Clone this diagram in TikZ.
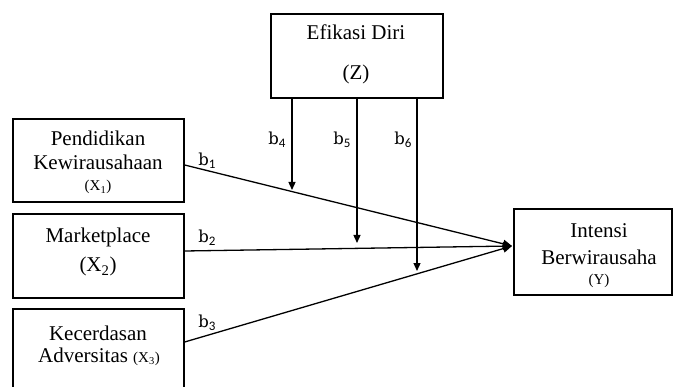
\documentclass[tikz,border=0pt]{standalone}
\usepackage{fontspec}
\setmainfont{Liberation Serif}
\newfontfamily\bfam{DejaVu Serif}
\newfontfamily\dfam{Carlito}
\newcommand{\blab}[1]{{\bfam\fontsize{16.5}{18}\selectfont b}\raisebox{-3pt}{\dfam\fontsize{13}{14}\selectfont #1}}
\usetikzlibrary{arrows.meta,calc}
\begin{document}
\begin{tikzpicture}[x=1pt,y=-1pt,
  box/.style={draw,line width=1.3pt,inner sep=0pt},
  txt/.style={anchor=base,inner sep=0pt,font=\fontsize{21}{24}\selectfont},
  small/.style={anchor=base,inner sep=0pt,font=\fontsize{15}{18}\selectfont},
  lab/.style={anchor=center,inner sep=0pt},
  conn/.style={line width=1.3pt,-{Triangle[length=9pt,width=8pt]}},
  vconn/.style={line width=1.3pt,-{Triangle[length=8pt,width=7pt]}}]
\useasboundingbox (0,0) rectangle (674,387);
\clip (0,0) rectangle (674,387);
% boxes
\node[box,minimum width=171pt,minimum height=83pt] (X1) at (98.5,160.5) {};
\node[box,minimum width=171pt,minimum height=84pt] (X2) at (98.5,256) {};
\node[box,minimum width=171pt,minimum height=91pt] (X3) at (98.5,354.5) {};
\node[box,minimum width=172pt,minimum height=84pt] (Z) at (357,56) {};
\node[box,minimum width=158pt,minimum height=86pt] (Y) at (593,252) {};
% texts
\node[txt] (t1a) at (98,146) {Pendidikan};
\node[txt] (t1b) at (98,170) {Kewirausahaan};
\node[small] (t1c) at (98,191) {(X\textsubscript{1})};
\node[txt] (t2a) at (98,243) {Marketplace};
\node[txt] (t2b) at (98,272) {(X\textsubscript{2})};
\node[txt] (t3a) at (98,340) {Kecerdasan};
\node[txt] (t3b) at (99,362) {Adversitas {\fontsize{15}{18}\selectfont(X\textsubscript{3})}};
\node[txt] (tza) at (356,40) {Efikasi Diri};
\node[txt] (tzb) at (356,80) {(Z)};
\node[txt] (tya) at (599,237) {Intensi};
\node[txt] (tyb) at (599,264) {Berwirausaha};
\node[small] (tyc) at (599,284) {(Y)};
% connectors
\coordinate (tip) at (512,246);
\draw[conn] ($(X1.east)+(0,4.5)$) -- (tip);
\draw[conn] ($(X2.east)+(0,-5)$) -- (tip);
\draw[conn] ($(X3.east)+(0,-12.5)$) -- (tip);
\coordinate (m4) at (292,190);
\coordinate (m5) at (357,243);
\coordinate (m6) at (417,271);
\draw[vconn] (Z.south -| m4) -- (m4);
\draw[vconn] (Z.south -| m5) -- (m5);
\draw[vconn] (Z.south -| m6) -- (m6);
% labels
\node[lab] (b1) at (207,161) {\blab{1}};
\node[lab] (b2) at (207,238) {\blab{2}};
\node[lab] (b3) at (207,323) {\blab{3}};
\node[lab] (b4) at (277,140) {\blab{4}};
\node[lab] (b5) at (342,140) {\blab{5}};
\node[lab] (b6) at (403,140) {\blab{6}};
\end{tikzpicture}
\end{document}
